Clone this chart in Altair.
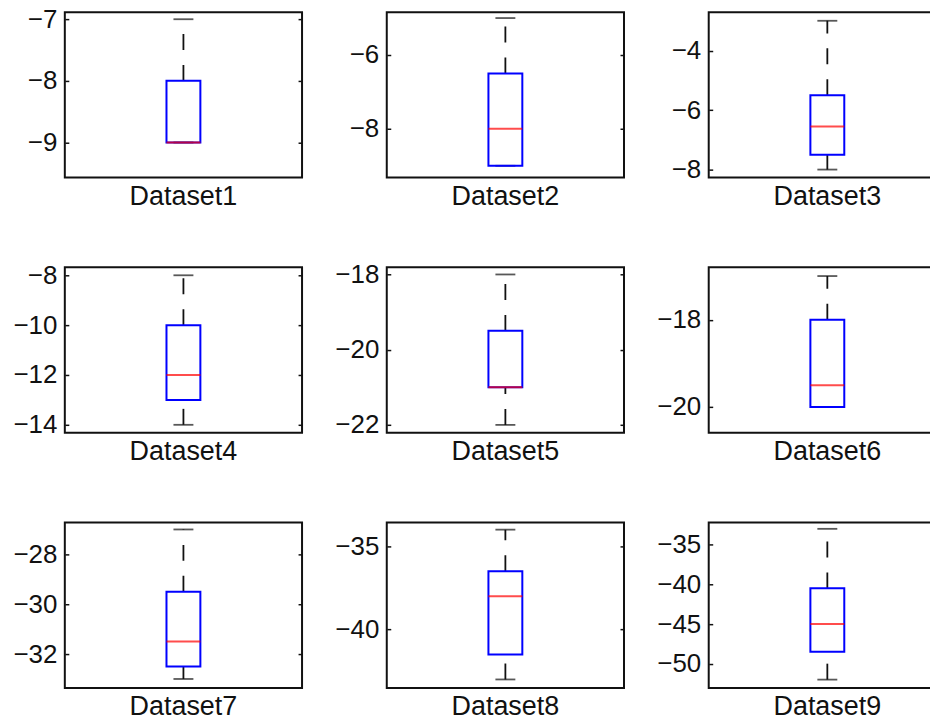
import altair as alt
import pandas as pd

# ---- data ----
names = ["Dataset1", "Dataset2", "Dataset3", "Dataset4", "Dataset5",
         "Dataset6", "Dataset7", "Dataset8", "Dataset9"]
lower_whisker = [-9, -9, -8, -14, -22, -20, -33, -43, -52]
q1_values = [-9, -9, -7.5, -13, -21, -20, -32.5, -41.5, -48.5]
medians = [-9, -8, -6.55, -12, -21, -19.5, -31.5, -38, -45]
q3_values = [-8, -6.5, -5.5, -10, -19.5, -18, -29.5, -36.5, -40.5]
upper_whisker = [-7, -5, -3, -8, -18, -17, -27, -34, -33]
ylim_low = [-9.57, -9.32, -8.27, -14.32, -22.21, -20.59, -33.36, -43.51, -53.05]
ylim_high = [-6.885, -4.84, -2.71, -7.68, -17.81, -16.80, -26.72, -33.57, -32.2]
tick_values = [[-9, -8, -7], [-8, -6], [-8, -6, -4], [-14, -12, -10, -8],
               [-22, -20, -18], [-20, -18], [-32, -30, -28], [-40, -35],
               [-50, -45, -40, -35]]

FONT = "Liberation Sans"
FS_TICK = 26
FS_LABEL = 27
W, H = 238, 166


def panel(i):
    df = pd.DataFrame({
        "name": [names[i]],
        "lo": [lower_whisker[i]],
        "q1": [q1_values[i]],
        "med": [medians[i]],
        "q3": [q3_values[i]],
        "hi": [upper_whisker[i]],
    })
    yscale = alt.Scale(domain=[ylim_low[i], ylim_high[i]], nice=False, zero=False)
    xenc = alt.X("name:N", title=None,
                 axis=alt.Axis(ticks=False, domain=False, labelAngle=0,
                               labelFontSize=FS_LABEL, labelFont=FONT,
                               labelColor="#111111", labelPadding=6, grid=False))
    left_axis = alt.Axis(values=tick_values[i], orient="left", title=None, grid=False,
                         domain=False, tickSize=4, offset=-4, tickColor="#111111",
                         tickWidth=1.5, labelFontSize=FS_TICK, labelFont=FONT,
                         labelColor="#111111", labelPadding=8, format="d")
    right_axis = alt.Axis(values=tick_values[i], orient="right", title=None, grid=False,
                          domain=False, tickSize=4, offset=-4, tickColor="#111111",
                          tickWidth=1.5, labels=False)
    base = alt.Chart(df)
    whisk_up = base.mark_rule(strokeDash=[16, 15], color="#111111", strokeWidth=1.8).encode(
        x=xenc, y=alt.Y("q3:Q", scale=yscale, axis=left_axis), y2="hi:Q")
    whisk_lo = base.mark_rule(strokeDash=[16, 15], color="#111111", strokeWidth=1.8).encode(
        x=xenc, y=alt.Y("lo:Q", scale=yscale, axis=right_axis), y2="q1:Q")
    caps = base.transform_fold(["lo", "hi"]).mark_tick(
        size=20, thickness=1.8, color="#111111").encode(
        x=xenc, y=alt.Y("value:Q", scale=yscale, axis=None))
    box = base.mark_bar(size=34, fillOpacity=0, stroke="#0000ff", strokeWidth=2).encode(
        x=xenc, y=alt.Y("q1:Q", scale=yscale, axis=None), y2="q3:Q")
    med = base.mark_tick(size=34, thickness=2, color="#ff0000").encode(
        x=xenc, y=alt.Y("med:Q", scale=yscale, axis=None))
    return alt.layer(whisk_up, whisk_lo, caps, box, med).resolve_axis(
        y="independent").properties(width=W, height=H)


chart = alt.concat(*[panel(i) for i in range(9)], columns=3,
                   spacing={"row": 90, "column": 85}, bounds="flush").properties(
    padding={"left": 3, "top": -4, "right": -18, "bottom": 0}
).configure_view(stroke="#111111", strokeWidth=2)

chart.save("out.html", embed_options={"renderer": "svg", "actions": False})
